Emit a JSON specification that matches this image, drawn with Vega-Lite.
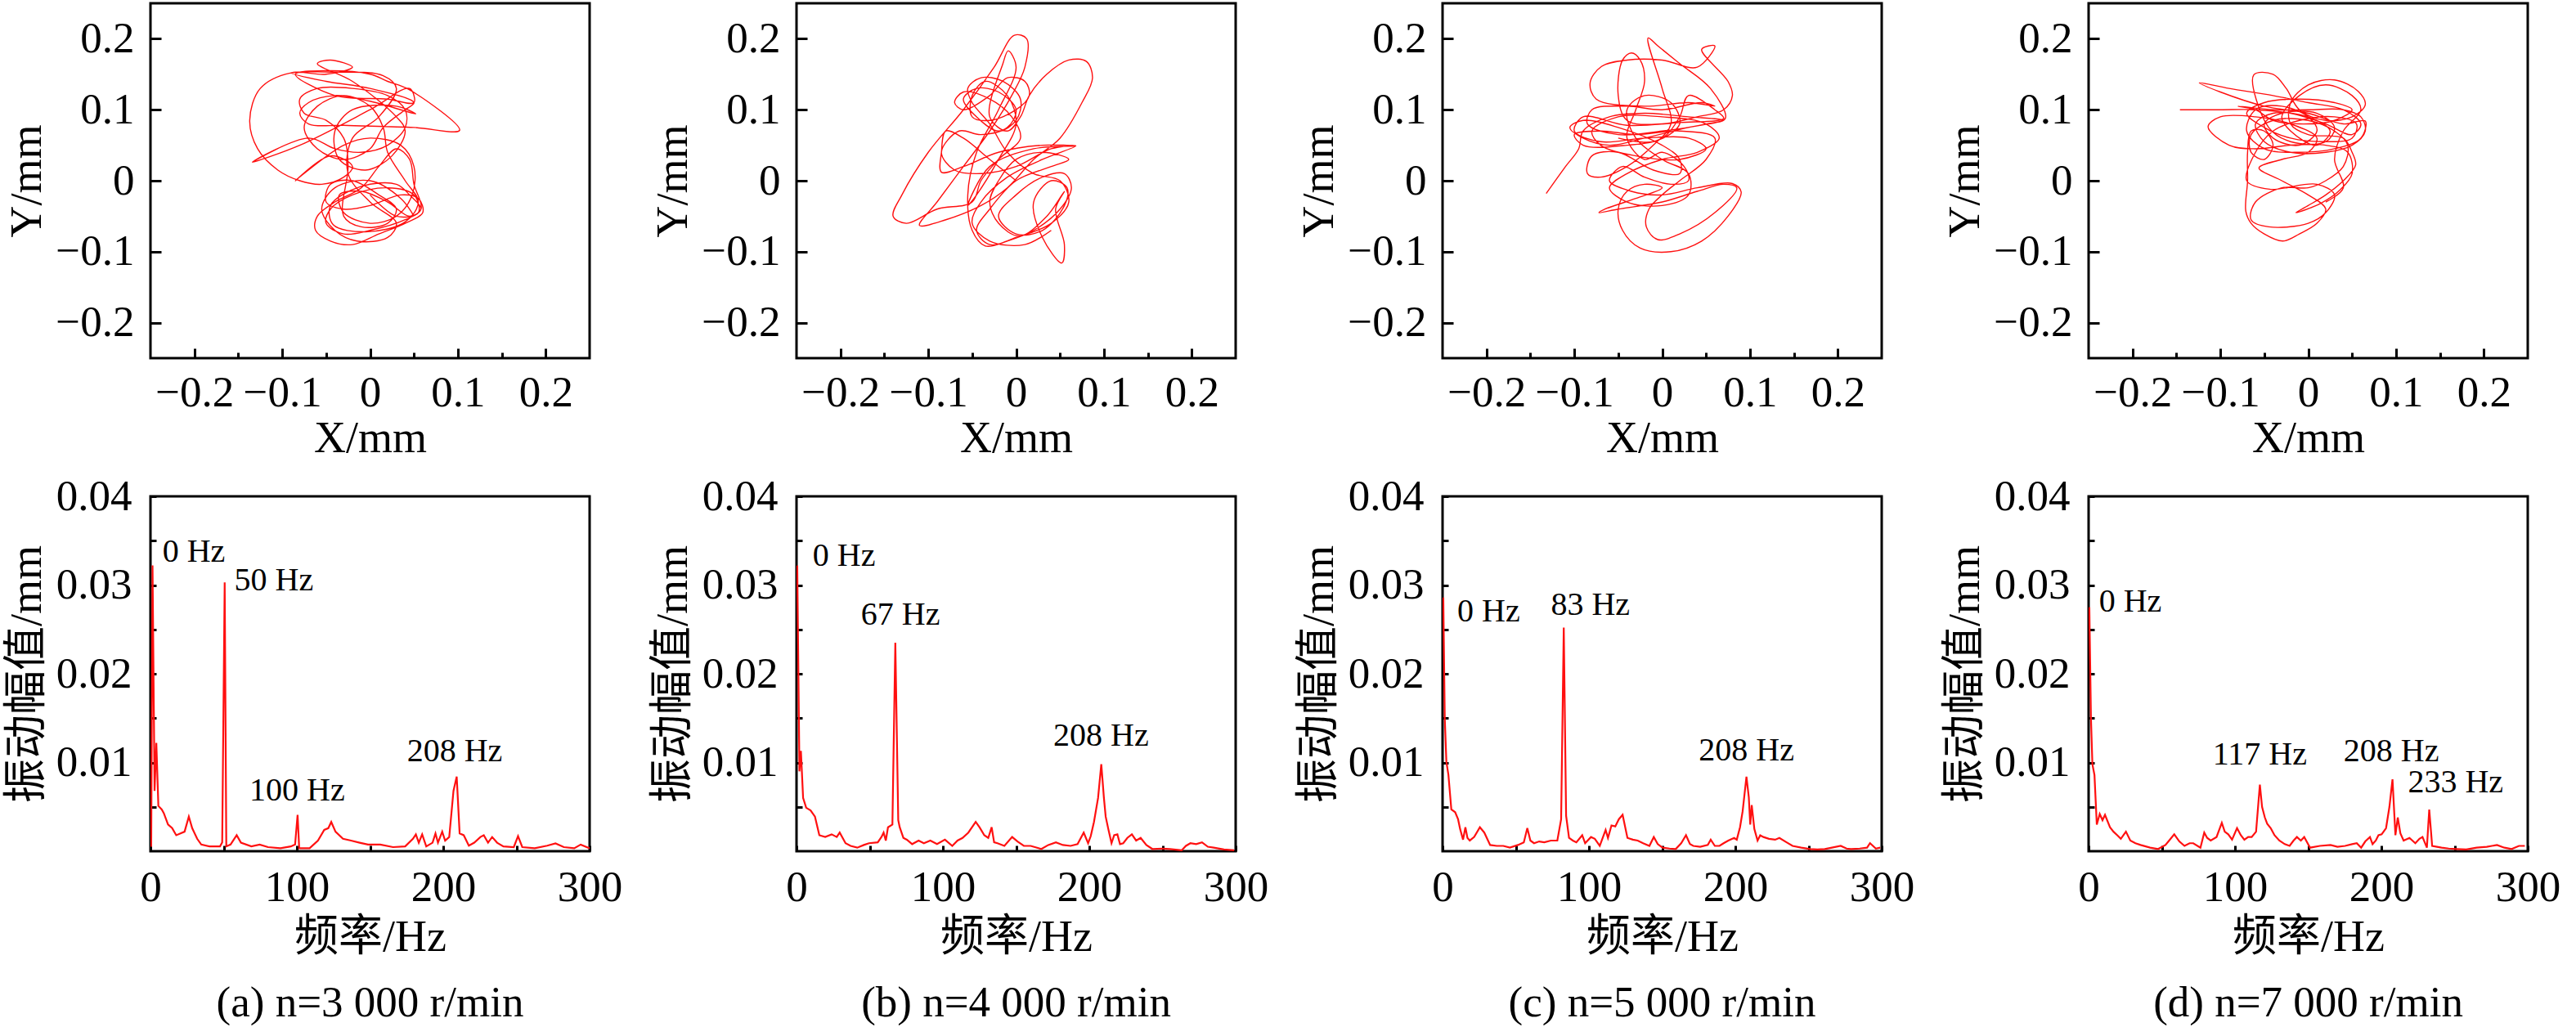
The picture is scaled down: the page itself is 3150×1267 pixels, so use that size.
{
  "$schema": "https://vega.github.io/schema/vega-lite/v6.json",
  "background": "white",
  "padding": {"left": 4, "top": 2, "right": 10, "bottom": 5},
  "columns": 4,
  "spacing": {"row": 169, "column": 253},
  "bounds": "flush",
  "config": {
    "font": "Liberation Serif",
    "view": {"stroke": "black", "strokeWidth": 3},
    "axis": {
      "domain": false, "grid": false,
      "labelFont": "Liberation Serif", "labelFontSize": 53, "labelColor": "black",
      "titleFont": "Liberation Serif, Noto Sans CJK SC", "titleFontSize": 54, "titleFontWeight": "normal", "titleColor": "black",
      "tickColor": "black", "tickWidth": 3, "labelFlush": false, "labelOverlap": false
    },
    "title": {"font": "Liberation Serif", "fontSize": 53, "fontWeight": "normal", "color": "black", "anchor": "middle"},
    "text": {"font": "Liberation Serif", "fontSize": 40, "color": "black", "align": "center", "baseline": "middle"}
  },
  "datasets": {
    "oa": [
      {"x":0.0,"y":-0.02},{"x":0.03,"y":-0.05},{"x":0.055,"y":-0.045},{"x":0.05,"y":-0.02},{"x":0.02,"y":-0.01},
      {"x":-0.02,"y":-0.02},{"x":-0.045,"y":-0.04},{"x":-0.05,"y":-0.06},{"x":-0.03,"y":-0.075},{"x":0.0,"y":-0.07},
      {"x":0.04,"y":-0.055},{"x":0.058,"y":-0.04},{"x":0.05,"y":-0.005},{"x":0.045,"y":0.03},{"x":0.03,"y":0.045},
      {"x":0.01,"y":0.02},{"x":-0.01,"y":-0.01},{"x":-0.04,"y":-0.03},{"x":-0.06,"y":-0.05},{"x":-0.062,"y":-0.07},
      {"x":-0.045,"y":-0.085},{"x":-0.02,"y":-0.09},{"x":0.01,"y":-0.075},{"x":0.04,"y":-0.06},{"x":0.06,"y":-0.045},
      {"x":0.055,"y":-0.025},{"x":0.035,"y":-0.02},{"x":0.0,"y":-0.035},{"x":-0.03,"y":-0.04},{"x":-0.05,"y":-0.03},
      {"x":-0.045,"y":-0.005},{"x":-0.02,"y":0.0},{"x":0.01,"y":-0.02},{"x":0.03,"y":-0.04},{"x":0.02,"y":-0.06},
      {"x":-0.01,"y":-0.065},{"x":-0.03,"y":-0.05},{"x":-0.025,"y":0.02},{"x":-0.03,"y":0.06},{"x":-0.05,"y":0.085},
      {"x":-0.075,"y":0.095},{"x":-0.08,"y":0.115},{"x":-0.06,"y":0.13},{"x":-0.02,"y":0.13},{"x":0.02,"y":0.12},
      {"x":0.04,"y":0.1},{"x":0.04,"y":0.075},{"x":0.02,"y":0.05},{"x":-0.01,"y":0.04},{"x":-0.04,"y":0.045},
      {"x":-0.07,"y":0.06},{"x":-0.134,"y":0.026},{"x":-0.08,"y":0.05},{"x":0.0,"y":0.1},{"x":0.045,"y":0.13},
      {"x":0.05,"y":0.11},{"x":0.02,"y":0.115},{"x":-0.04,"y":0.12},{"x":-0.085,"y":0.15},{"x":-0.05,"y":0.155},
      {"x":0.0,"y":0.15},{"x":0.02,"y":0.14},{"x":0.045,"y":0.128},{"x":0.102,"y":0.071},{"x":0.05,"y":0.075},
      {"x":-0.03,"y":0.078},{"x":-0.07,"y":0.08},{"x":-0.08,"y":0.095},{"x":-0.07,"y":0.11},{"x":-0.04,"y":0.12},
      {"x":0.0,"y":0.112},{"x":0.052,"y":0.094},{"x":0.03,"y":0.105},{"x":-0.02,"y":0.1},{"x":-0.04,"y":0.07},
      {"x":-0.035,"y":0.03},{"x":-0.005,"y":0.015},{"x":0.025,"y":0.035},{"x":0.04,"y":0.07},{"x":0.03,"y":0.09},
      {"x":-0.02,"y":0.14},{"x":-0.06,"y":0.165},{"x":-0.045,"y":0.17},{"x":-0.02,"y":0.16},{"x":-0.05,"y":0.15},
      {"x":-0.09,"y":0.152},{"x":-0.125,"y":0.13},{"x":-0.137,"y":0.085},{"x":-0.128,"y":0.045},{"x":-0.105,"y":0.015},
      {"x":-0.08,"y":0.0},{"x":-0.055,"y":-0.005},{"x":-0.03,"y":0.005},{"x":-0.02,"y":0.02},{"x":-0.045,"y":0.035},
      {"x":-0.085,"y":0.0},{"x":-0.03,"y":0.05},{"x":0.0,"y":0.06},{"x":0.035,"y":0.05},{"x":0.05,"y":0.02},
      {"x":0.048,"y":-0.02},{"x":0.03,"y":-0.05},{"x":0.0,"y":-0.06},{"x":-0.03,"y":-0.045},{"x":-0.035,"y":-0.02},
      {"x":-0.01,"y":-0.015},{"x":0.02,"y":-0.03},{"x":0.045,"y":-0.05},{"x":0.058,"y":-0.04},
      {"x":0.045,"y":-0.02},{"x":0.03,"y":-0.005},{"x":-0.01,"y":-0.008},{"x":-0.045,"y":-0.035},{"x":-0.042,"y":-0.062},
      {"x":-0.005,"y":-0.072},{"x":0.04,"y":-0.058},{"x":0.055,"y":-0.03},{"x":0.04,"y":0.0},{"x":0.02,"y":0.04},
      {"x":0.015,"y":0.075},{"x":0.0,"y":0.105},{"x":-0.03,"y":0.12},{"x":-0.06,"y":0.105},{"x":-0.075,"y":0.075},
      {"x":-0.06,"y":0.045},{"x":-0.03,"y":0.03},{"x":0.0,"y":0.045},{"x":0.015,"y":0.075},{"x":0.04,"y":0.1},
      {"x":0.05,"y":0.11},{"x":0.0,"y":0.13},{"x":-0.05,"y":0.14},{"x":-0.09,"y":0.152},{"x":-0.04,"y":0.153},
      {"x":0.015,"y":0.148},{"x":0.03,"y":0.13},{"x":0.01,"y":0.09},{"x":-0.02,"y":0.06},{"x":-0.025,"y":0.01},
      {"x":0.0,"y":-0.03},{"x":0.03,"y":-0.06},{"x":0.02,"y":-0.08},{"x":-0.015,"y":-0.085},{"x":-0.04,"y":-0.07},
      {"x":-0.055,"y":-0.04},{"x":-0.04,"y":-0.01},{"x":0.0,"y":0.0},{"x":0.035,"y":-0.025},{"x":0.05,"y":-0.05}
    ],
    "ob": [
      {"x":0.0,"y":0.0},{"x":-0.03,"y":0.03},{"x":-0.06,"y":0.06},{"x":-0.08,"y":0.07},{"x":-0.085,"y":0.04},
      {"x":-0.085,"y":0.012},{"x":-0.06,"y":0.02},{"x":-0.02,"y":0.04},{"x":0.03,"y":0.05},{"x":0.068,"y":0.049},
      {"x":0.02,"y":0.045},{"x":-0.03,"y":0.02},{"x":-0.055,"y":-0.035},{"x":-0.045,"y":-0.02},{"x":-0.02,"y":0.03},
      {"x":0.0,"y":0.08},{"x":-0.01,"y":0.12},{"x":-0.035,"y":0.14},{"x":-0.05,"y":0.12},{"x":-0.05,"y":0.09},
      {"x":-0.03,"y":0.085},{"x":0.0,"y":0.1},{"x":0.015,"y":0.12},{"x":0.01,"y":0.14},{"x":-0.01,"y":0.145},
      {"x":-0.03,"y":0.12},{"x":-0.06,"y":0.1},{"x":-0.07,"y":0.11},{"x":-0.06,"y":0.125},{"x":-0.03,"y":0.115},
      {"x":-0.005,"y":0.09},{"x":0.005,"y":0.06},{"x":-0.02,"y":0.03},{"x":-0.04,"y":0.0},{"x":-0.05,"y":-0.03},
      {"x":-0.09,"y":-0.04},{"x":-0.125,"y":-0.06},{"x":-0.14,"y":-0.05},{"x":-0.13,"y":-0.02},{"x":-0.1,"y":0.04},
      {"x":-0.06,"y":0.1},{"x":-0.025,"y":0.16},{"x":-0.002,"y":0.205},{"x":0.012,"y":0.2},{"x":0.01,"y":0.16},
      {"x":-0.005,"y":0.12},{"x":-0.03,"y":0.07},{"x":-0.06,"y":0.02},{"x":-0.09,"y":-0.03},{"x":-0.11,"y":-0.063},
      {"x":-0.08,"y":-0.055},{"x":-0.04,"y":-0.035},{"x":-0.01,"y":-0.01},{"x":0.02,"y":0.03},{"x":0.05,"y":0.06},
      {"x":0.075,"y":0.11},{"x":0.087,"y":0.145},{"x":0.08,"y":0.168},{"x":0.06,"y":0.17},{"x":0.035,"y":0.15},
      {"x":0.015,"y":0.12},{"x":0.005,"y":0.09},{"x":-0.01,"y":0.07},{"x":-0.03,"y":0.09},{"x":-0.015,"y":0.165},
      {"x":-0.009,"y":0.183},{"x":0.0,"y":0.16},{"x":-0.02,"y":0.1},{"x":-0.045,"y":0.04},{"x":-0.055,"y":-0.02},
      {"x":-0.05,"y":-0.07},{"x":-0.035,"y":-0.092},{"x":-0.01,"y":-0.085},{"x":0.02,"y":-0.07},{"x":0.05,"y":-0.04},
      {"x":0.063,"y":-0.01},{"x":0.055,"y":0.01},{"x":0.03,"y":0.005},{"x":0.0,"y":-0.02},{"x":-0.02,"y":-0.05},
      {"x":0.0,"y":-0.075},{"x":0.03,"y":-0.07},{"x":0.055,"y":-0.035},{"x":0.058,"y":-0.01},{"x":0.04,"y":0.0},
      {"x":0.02,"y":-0.03},{"x":0.03,"y":-0.08},{"x":0.052,"y":-0.116},{"x":0.055,"y":-0.09},{"x":0.045,"y":-0.04},
      {"x":0.055,"y":-0.015},{"x":0.035,"y":-0.05},{"x":0.004,"y":-0.078},{"x":-0.02,"y":-0.06},{"x":-0.03,"y":-0.03},
      {"x":-0.02,"y":0.0},{"x":0.0,"y":0.03},{"x":0.03,"y":0.04},{"x":0.06,"y":0.03},
      {"x":0.04,"y":0.02},{"x":0.0,"y":0.0},{"x":-0.03,"y":-0.04},{"x":-0.045,"y":-0.07},{"x":-0.03,"y":-0.09},
      {"x":0.0,"y":-0.08},{"x":0.04,"y":-0.06},{"x":0.06,"y":-0.03},{"x":0.05,"y":0.0},{"x":0.02,"y":0.01},
      {"x":-0.01,"y":0.04},{"x":-0.03,"y":0.08},{"x":-0.05,"y":0.11},{"x":-0.055,"y":0.13},{"x":-0.04,"y":0.145},
      {"x":-0.015,"y":0.14},{"x":0.005,"y":0.115},{"x":0.0,"y":0.085},{"x":-0.02,"y":0.07},{"x":-0.045,"y":0.09},
      {"x":-0.06,"y":0.115},{"x":-0.045,"y":0.13},{"x":-0.02,"y":0.125},{"x":0.0,"y":0.1},{"x":-0.01,"y":0.075},
      {"x":-0.04,"y":0.065},{"x":-0.065,"y":0.07},{"x":-0.085,"y":0.04},{"x":-0.07,"y":0.015},{"x":-0.04,"y":0.01},
      {"x":0.0,"y":0.02},{"x":0.04,"y":0.045},{"x":0.068,"y":0.049},{"x":0.03,"y":0.03},{"x":-0.01,"y":0.005},
      {"x":-0.04,"y":-0.03},{"x":-0.05,"y":-0.06},{"x":-0.03,"y":-0.085},{"x":0.01,"y":-0.09},{"x":0.04,"y":-0.07}
    ],
    "oc": [
      {"x":-0.132,"y":-0.018},{"x":-0.11,"y":0.02},{"x":-0.095,"y":0.045},{"x":-0.09,"y":0.07},{"x":-0.06,"y":0.09},
      {"x":-0.02,"y":0.095},{"x":0.03,"y":0.09},{"x":0.07,"y":0.085},{"x":0.03,"y":0.075},{"x":-0.02,"y":0.06},
      {"x":-0.06,"y":0.05},{"x":-0.09,"y":0.06},{"x":-0.105,"y":0.075},{"x":-0.09,"y":0.085},{"x":-0.05,"y":0.075},
      {"x":0.0,"y":0.05},{"x":0.02,"y":0.03},{"x":0.02,"y":0.01},{"x":-0.01,"y":0.015},{"x":-0.05,"y":0.04},
      {"x":-0.08,"y":0.035},{"x":-0.085,"y":0.01},{"x":-0.07,"y":0.005},{"x":-0.04,"y":0.02},{"x":-0.01,"y":0.05},
      {"x":0.01,"y":0.08},{"x":0.0,"y":0.13},{"x":-0.016,"y":0.201},{"x":-0.005,"y":0.19},{"x":0.02,"y":0.165},
      {"x":0.055,"y":0.13},{"x":0.072,"y":0.088},{"x":0.05,"y":0.08},{"x":0.0,"y":0.07},{"x":-0.05,"y":0.065},
      {"x":-0.085,"y":0.08},{"x":-0.08,"y":0.1},{"x":-0.04,"y":0.105},{"x":0.0,"y":0.1},{"x":0.045,"y":0.11},
      {"x":0.06,"y":0.105},{"x":0.03,"y":0.11},{"x":-0.02,"y":0.105},{"x":-0.075,"y":0.115},{"x":-0.082,"y":0.138},
      {"x":-0.069,"y":0.161},{"x":-0.04,"y":0.17},{"x":0.0,"y":0.17},{"x":0.04,"y":0.16},{"x":0.06,"y":0.19},
      {"x":0.045,"y":0.185},{"x":0.075,"y":0.14},{"x":0.08,"y":0.12},{"x":0.07,"y":0.1},{"x":0.04,"y":0.09},
      {"x":0.0,"y":0.08},{"x":-0.04,"y":0.085},{"x":-0.05,"y":0.12},{"x":-0.045,"y":0.17},{"x":-0.035,"y":0.18},
      {"x":-0.025,"y":0.17},{"x":-0.02,"y":0.14},{"x":-0.03,"y":0.1},{"x":-0.04,"y":0.06},{"x":-0.02,"y":0.03},
      {"x":0.0,"y":0.04},{"x":0.025,"y":0.02},{"x":0.03,"y":0.0},{"x":0.01,"y":-0.005},{"x":-0.02,"y":0.005},
      {"x":-0.045,"y":0.02},{"x":-0.06,"y":0.0},{"x":-0.035,"y":-0.015},{"x":0.0,"y":-0.02},{"x":0.04,"y":-0.01},
      {"x":0.08,"y":-0.004},{"x":0.09,"y":-0.016},{"x":0.075,"y":-0.05},{"x":0.045,"y":-0.085},{"x":0.01,"y":-0.1},
      {"x":-0.025,"y":-0.095},{"x":-0.045,"y":-0.07},{"x":-0.05,"y":-0.04},{"x":-0.04,"y":-0.015},{"x":-0.02,"y":-0.005},
      {"x":0.0,"y":-0.01},{"x":-0.03,"y":-0.025},{"x":-0.065,"y":-0.04},{"x":-0.072,"y":-0.045},{"x":-0.05,"y":-0.04},
      {"x":0.0,"y":-0.03},{"x":0.04,"y":-0.015},{"x":0.07,"y":-0.005},{"x":0.085,"y":-0.01},{"x":0.06,"y":-0.045},
      {"x":0.02,"y":-0.075},{"x":-0.005,"y":-0.083},{"x":-0.018,"y":-0.065},{"x":-0.015,"y":-0.04},{"x":0.0,"y":-0.02},
      {"x":0.02,"y":0.0},{"x":0.05,"y":0.03},{"x":0.06,"y":0.06},{"x":0.02,"y":0.07},{"x":-0.03,"y":0.065},
      {"x":-0.07,"y":0.07},{"x":-0.1,"y":0.065},{"x":-0.09,"y":0.05},{"x":-0.04,"y":0.05},{"x":0.0,"y":0.06},
      {"x":0.02,"y":0.09},{"x":0.03,"y":0.12},{"x":0.06,"y":0.1},{"x":0.07,"y":0.088},{"x":0.02,"y":0.082},
      {"x":-0.04,"y":0.078},{"x":-0.09,"y":0.09},{"x":-0.1,"y":0.07},{"x":-0.07,"y":0.055},{"x":-0.02,"y":0.06},
      {"x":0.03,"y":0.06},{"x":0.05,"y":0.045},{"x":0.02,"y":0.03},{"x":-0.03,"y":0.035},{"x":-0.07,"y":0.05},
      {"x":-0.08,"y":0.07},{"x":-0.05,"y":0.09},{"x":0.0,"y":0.09},{"x":0.05,"y":0.08},{"x":0.065,"y":0.06},
      {"x":0.04,"y":0.04},{"x":0.0,"y":0.03},{"x":-0.04,"y":0.01},{"x":-0.06,"y":-0.01},{"x":-0.04,"y":-0.03},
      {"x":0.0,"y":-0.035},{"x":0.03,"y":-0.02},{"x":0.03,"y":0.01},{"x":0.0,"y":0.03},{"x":-0.03,"y":0.06},
      {"x":-0.04,"y":0.1},{"x":-0.02,"y":0.12},{"x":0.01,"y":0.11},{"x":0.02,"y":0.08},{"x":-0.01,"y":0.055},
      {"x":-0.05,"y":0.06}
    ],
    "od": [
      {"x":-0.146,"y":0.1},{"x":-0.1,"y":0.1},{"x":-0.06,"y":0.1},{"x":-0.02,"y":0.095},{"x":0.02,"y":0.08},
      {"x":0.05,"y":0.065},{"x":0.06,"y":0.08},{"x":0.04,"y":0.1},{"x":0.0,"y":0.11},{"x":-0.04,"y":0.12},
      {"x":-0.09,"y":0.13},{"x":-0.124,"y":0.138},{"x":-0.1,"y":0.125},{"x":-0.05,"y":0.105},{"x":0.0,"y":0.095},
      {"x":0.04,"y":0.08},{"x":0.065,"y":0.084},{"x":0.06,"y":0.06},{"x":0.03,"y":0.045},{"x":-0.01,"y":0.04},
      {"x":-0.05,"y":0.045},{"x":-0.07,"y":0.07},{"x":-0.06,"y":0.1},{"x":-0.03,"y":0.105},{"x":0.0,"y":0.09},
      {"x":0.01,"y":0.07},{"x":-0.01,"y":0.05},{"x":-0.04,"y":0.06},{"x":-0.05,"y":0.08},{"x":-0.03,"y":0.095},
      {"x":0.01,"y":0.095},{"x":0.03,"y":0.075},{"x":0.02,"y":0.055},{"x":-0.02,"y":0.055},{"x":-0.045,"y":0.075},
      {"x":-0.062,"y":0.149},{"x":-0.04,"y":0.15},{"x":-0.025,"y":0.13},{"x":-0.01,"y":0.1},{"x":0.02,"y":0.085},
      {"x":0.05,"y":0.09},{"x":0.065,"y":0.107},{"x":0.057,"y":0.126},{"x":0.03,"y":0.142},{"x":0.0,"y":0.135},
      {"x":-0.02,"y":0.11},{"x":-0.02,"y":0.08},{"x":0.0,"y":0.065},{"x":0.04,"y":0.06},{"x":0.05,"y":0.04},
      {"x":0.054,"y":0.022},{"x":0.04,"y":0.0},{"x":0.02,"y":-0.02},{"x":0.0,"y":-0.035},{"x":-0.014,"y":-0.045},
      {"x":0.014,"y":-0.032},{"x":0.037,"y":-0.012},{"x":0.05,"y":0.01},{"x":0.045,"y":0.04},{"x":0.02,"y":0.05},
      {"x":-0.02,"y":0.05},{"x":-0.06,"y":0.045},{"x":-0.09,"y":0.05},{"x":-0.114,"y":0.076},{"x":-0.1,"y":0.09},
      {"x":-0.06,"y":0.09},{"x":-0.02,"y":0.08},{"x":0.01,"y":0.06},{"x":0.0,"y":0.04},{"x":-0.03,"y":0.03},
      {"x":-0.056,"y":0.018},{"x":-0.03,"y":0.0},{"x":0.0,"y":-0.02},{"x":0.02,"y":-0.04},{"x":0.01,"y":-0.06},
      {"x":-0.01,"y":-0.075},{"x":-0.029,"y":-0.085},{"x":-0.05,"y":-0.075},{"x":-0.065,"y":-0.06},{"x":-0.071,"y":-0.043},
      {"x":-0.069,"y":0.0},{"x":-0.069,"y":0.04},{"x":-0.065,"y":0.07},{"x":-0.05,"y":0.07},{"x":-0.04,"y":0.05},
      {"x":-0.05,"y":0.03},{"x":-0.065,"y":0.04},{"x":-0.065,"y":0.065},{"x":-0.04,"y":0.085},{"x":0.0,"y":0.085},
      {"x":0.03,"y":0.07},{"x":0.045,"y":0.05},{"x":0.04,"y":0.02},{"x":0.02,"y":0.0},{"x":0.0,"y":-0.01},
      {"x":-0.03,"y":-0.01},{"x":-0.06,"y":-0.03},{"x":-0.065,"y":-0.055},{"x":-0.045,"y":-0.065},{"x":0.0,"y":-0.06},
      {"x":0.02,"y":-0.045},{"x":0.03,"y":-0.02},{"x":0.01,"y":-0.005},{"x":-0.044,"y":-0.012},
      {"x":-0.07,"y":0.0},{"x":-0.06,"y":0.04},{"x":-0.04,"y":0.07},{"x":-0.01,"y":0.085},{"x":0.03,"y":0.09},
      {"x":0.055,"y":0.08},{"x":0.05,"y":0.06},{"x":0.02,"y":0.055},{"x":-0.02,"y":0.06},{"x":-0.05,"y":0.075},
      {"x":-0.07,"y":0.095},{"x":-0.05,"y":0.11},{"x":-0.01,"y":0.115},{"x":0.03,"y":0.11},{"x":0.05,"y":0.1},
      {"x":0.03,"y":0.085},{"x":-0.01,"y":0.08},{"x":-0.04,"y":0.085},{"x":-0.06,"y":0.1},{"x":-0.08,"y":0.105},
      {"x":-0.04,"y":0.1},{"x":0.0,"y":0.1},{"x":0.04,"y":0.1},{"x":0.06,"y":0.09},{"x":0.065,"y":0.07},
      {"x":0.05,"y":0.05},{"x":0.02,"y":0.04},{"x":-0.02,"y":0.04},{"x":-0.05,"y":0.055},{"x":-0.06,"y":0.08},
      {"x":-0.04,"y":0.095},{"x":0.0,"y":0.09},{"x":0.025,"y":0.07},{"x":0.01,"y":0.05},{"x":-0.02,"y":0.07},
      {"x":-0.03,"y":0.09},{"x":-0.01,"y":0.12},{"x":0.02,"y":0.135},{"x":0.05,"y":0.12},{"x":0.06,"y":0.1},
      {"x":0.04,"y":0.07},{"x":0.03,"y":0.03},{"x":0.04,"y":-0.01},{"x":0.02,"y":-0.03}
    ],
    "sa": [
      {"f":0.5,"a":0.0005},{"f":1.4,"a":0.0322},{"f":2.8,"a":0.0068},{"f":4.0,"a":0.0122},{"f":5.4,"a":0.0051},
      {"f":7.7,"a":0.0047},{"f":9.1,"a":0.0043},{"f":12.0,"a":0.003},{"f":14.8,"a":0.0026},{"f":17.6,"a":0.0018},
      {"f":20.5,"a":0.002},{"f":23.3,"a":0.0022},{"f":26.2,"a":0.0039},{"f":28.5,"a":0.0026},{"f":31.9,"a":0.0014},
      {"f":34.7,"a":0.00075},{"f":40.4,"a":0.00054},{"f":47.5,"a":0.00054},{"f":49.0,"a":0.001},{"f":50.7,"a":0.0303},
      {"f":51.8,"a":0.00054},{"f":54.7,"a":0.00075},{"f":58.9,"a":0.0018},{"f":61.8,"a":0.00096},{"f":68.9,"a":0.00054},
      {"f":74.6,"a":0.00075},{"f":80.3,"a":0.00046},{"f":88.8,"a":0.00033},{"f":95.9,"a":0.00054},{"f":98.8,"a":0.00075},
      {"f":100.5,"a":0.0041},{"f":101.6,"a":0.00033},{"f":108.7,"a":0.00033},{"f":114.4,"a":0.0012},{"f":118.7,"a":0.0024},
      {"f":121.5,"a":0.0026},{"f":123.5,"a":0.0033},{"f":126.4,"a":0.0022},{"f":131.5,"a":0.0014},{"f":137.0,"a":0.0012},
      {"f":142.9,"a":0.00096},{"f":148.6,"a":0.00075},{"f":157.0,"a":0.00075},{"f":165.7,"a":0.00046},{"f":174.0,"a":0.00054},
      {"f":179.3,"a":0.0014},{"f":181.3,"a":0.0019},{"f":183.3,"a":0.00096},{"f":185.6,"a":0.0019},{"f":188.4,"a":0.00054},
      {"f":192.7,"a":0.00096},{"f":194.7,"a":0.002},{"f":196.4,"a":0.00096},{"f":199.3,"a":0.0022},{"f":201.3,"a":0.0012},
      {"f":204.1,"a":0.0016},{"f":207.0,"a":0.0068},{"f":209.2,"a":0.0084},{"f":211.2,"a":0.002},{"f":214.0,"a":0.0018},
      {"f":217.5,"a":0.00062},{"f":221.2,"a":0.00096},{"f":225.4,"a":0.0016},{"f":227.7,"a":0.0018},{"f":230.6,"a":0.00096},
      {"f":233.4,"a":0.0016},{"f":236.8,"a":0.00096},{"f":241.1,"a":0.00054},{"f":248.2,"a":0.00046},{"f":251.1,"a":0.0017},
      {"f":254.0,"a":0.00046},{"f":262.5,"a":0.00033},{"f":271.0,"a":0.00062},{"f":276.7,"a":0.00088},{"f":282.4,"a":0.00046},
      {"f":289.5,"a":0.00033},{"f":293.9,"a":0.00075},{"f":300.0,"a":0.00033}
    ],
    "sb": [
      {"f":0.5,"a":0.0322},{"f":2.0,"a":0.009},{"f":3.0,"a":0.0113},{"f":4.5,"a":0.006},{"f":6.6,"a":0.0049},
      {"f":9.6,"a":0.0046},{"f":12.6,"a":0.0039},{"f":15.6,"a":0.0018},{"f":19.6,"a":0.0016},{"f":24.0,"a":0.0019},
      {"f":27.5,"a":0.0016},{"f":29.5,"a":0.0021},{"f":33.5,"a":0.0009},{"f":37.0,"a":0.0006},{"f":41.5,"a":0.0004},
      {"f":46.0,"a":0.0007},{"f":49.5,"a":0.0009},{"f":55.5,"a":0.001},{"f":58.0,"a":0.0016},{"f":59.5,"a":0.0021},
      {"f":61.0,"a":0.0012},{"f":62.5,"a":0.0027},{"f":65.5,"a":0.003},{"f":67.5,"a":0.0235},{"f":69.5,"a":0.0035},
      {"f":70.5,"a":0.0027},{"f":73.0,"a":0.0015},{"f":75.4,"a":0.0013},{"f":79.0,"a":0.0008},{"f":83.4,"a":0.0012},
      {"f":87.0,"a":0.0009},{"f":91.4,"a":0.0012},{"f":96.0,"a":0.0008},{"f":101.4,"a":0.0013},{"f":106.4,"a":0.0006},
      {"f":110.0,"a":0.0012},{"f":113.4,"a":0.0015},{"f":117.4,"a":0.0021},{"f":122.4,"a":0.0033},{"f":125.0,"a":0.0027},
      {"f":128.3,"a":0.0018},{"f":131.0,"a":0.0015},{"f":133.3,"a":0.0027},{"f":135.0,"a":0.001},{"f":137.3,"a":0.0009},
      {"f":142.0,"a":0.0006},{"f":147.3,"a":0.0016},{"f":151.0,"a":0.0011},{"f":155.3,"a":0.0006},{"f":160.0,"a":0.0006},
      {"f":167.3,"a":0.00025},{"f":172.0,"a":0.0007},{"f":177.2,"a":0.001},{"f":182.0,"a":0.0007},{"f":187.2,"a":0.0006},
      {"f":192.0,"a":0.0008},{"f":196.2,"a":0.0021},{"f":199.2,"a":0.0009},{"f":201.0,"a":0.0017},{"f":203.2,"a":0.0033},
      {"f":206.0,"a":0.006},{"f":208.2,"a":0.0098},{"f":210.0,"a":0.006},{"f":211.2,"a":0.0039},{"f":213.0,"a":0.0025},
      {"f":215.2,"a":0.0009},{"f":217.0,"a":0.0018},{"f":219.2,"a":0.0019},{"f":221.0,"a":0.0008},{"f":223.2,"a":0.0009},
      {"f":226.0,"a":0.0015},{"f":229.1,"a":0.0019},{"f":232.0,"a":0.0012},{"f":235.1,"a":0.0015},{"f":239.0,"a":0.0007},
      {"f":243.1,"a":0.00025},{"f":250.0,"a":0.0003},{"f":255.1,"a":0.00025},{"f":263.1,"a":0.0001},{"f":266.0,"a":0.0006},
      {"f":269.1,"a":0.0009},{"f":273.0,"a":0.0008},{"f":277.0,"a":0.001},{"f":281.0,"a":0.0005},{"f":285.0,"a":0.0004},
      {"f":292.0,"a":0.0002},{"f":299.0,"a":0.0001}
    ],
    "sc": [
      {"f":0.5,"a":0.0286},{"f":1.5,"a":0.015},{"f":2.6,"a":0.0101},{"f":4.0,"a":0.0086},{"f":6.0,"a":0.0047},
      {"f":8.6,"a":0.0044},{"f":10.6,"a":0.0036},{"f":12.0,"a":0.0025},{"f":14.0,"a":0.0013},{"f":15.6,"a":0.0027},
      {"f":17.0,"a":0.0015},{"f":18.6,"a":0.0012},{"f":21.6,"a":0.0016},{"f":25.5,"a":0.0027},{"f":28.5,"a":0.0021},
      {"f":32.5,"a":0.0007},{"f":37.0,"a":0.0006},{"f":41.5,"a":0.0006},{"f":46.0,"a":0.0004},{"f":51.5,"a":0.0007},
      {"f":55.5,"a":0.001},{"f":57.9,"a":0.0026},{"f":60.0,"a":0.0012},{"f":62.5,"a":0.0009},{"f":66.0,"a":0.0011},
      {"f":69.5,"a":0.001},{"f":74.0,"a":0.0012},{"f":78.4,"a":0.0012},{"f":81.0,"a":0.0036},{"f":82.8,"a":0.0252},
      {"f":84.4,"a":0.004},{"f":86.4,"a":0.0015},{"f":89.0,"a":0.0012},{"f":91.4,"a":0.001},{"f":95.4,"a":0.0018},
      {"f":97.4,"a":0.0009},{"f":101.4,"a":0.0016},{"f":104.0,"a":0.0014},{"f":107.4,"a":0.0006},{"f":111.4,"a":0.0024},
      {"f":113.0,"a":0.0015},{"f":115.4,"a":0.0029},{"f":118.0,"a":0.0028},{"f":120.4,"a":0.0036},{"f":123.0,"a":0.0041},
      {"f":126.3,"a":0.0015},{"f":130.0,"a":0.0013},{"f":133.3,"a":0.0012},{"f":137.0,"a":0.0009},{"f":141.3,"a":0.0006},
      {"f":144.3,"a":0.0016},{"f":147.0,"a":0.0008},{"f":150.3,"a":0.0004},{"f":155.0,"a":0.0003},{"f":159.3,"a":0.00025},
      {"f":163.0,"a":0.0009},{"f":166.3,"a":0.0018},{"f":169.0,"a":0.0008},{"f":171.3,"a":0.0006},{"f":176.0,"a":0.0005},
      {"f":181.2,"a":0.0007},{"f":183.2,"a":0.0013},{"f":186.0,"a":0.0006},{"f":189.2,"a":0.0006},{"f":192.0,"a":0.0009},
      {"f":195.2,"a":0.0012},{"f":199.2,"a":0.0015},{"f":201.0,"a":0.0013},{"f":203.2,"a":0.0027},{"f":205.0,"a":0.0045},
      {"f":207.6,"a":0.0084},{"f":209.2,"a":0.0061},{"f":210.2,"a":0.003},{"f":211.2,"a":0.0052},{"f":213.0,"a":0.0025},
      {"f":215.2,"a":0.0012},{"f":217.0,"a":0.0018},{"f":219.2,"a":0.0016},{"f":223.0,"a":0.0014},{"f":227.2,"a":0.0013},
      {"f":230.1,"a":0.0015},{"f":235.0,"a":0.001},{"f":239.1,"a":0.0006},{"f":245.0,"a":0.0004},{"f":251.1,"a":0.00025},
      {"f":256.0,"a":0.0002},{"f":261.1,"a":0.00025},{"f":266.0,"a":0.0004},{"f":272.0,"a":0.0006},{"f":276.0,"a":0.0003},
      {"f":279.0,"a":0.00025},{"f":285.0,"a":0.0003},{"f":290.0,"a":0.0004},{"f":292.0,"a":0.0009},{"f":296.0,"a":0.0003},
      {"f":299.0,"a":0.0004}
    ],
    "sd": [
      {"f":0.5,"a":0.0275},{"f":1.6,"a":0.015},{"f":2.6,"a":0.0098},{"f":4.0,"a":0.0086},{"f":5.6,"a":0.003},
      {"f":7.6,"a":0.0042},{"f":9.5,"a":0.0035},{"f":11.2,"a":0.0041},{"f":14.6,"a":0.0027},{"f":17.0,"a":0.0022},
      {"f":19.6,"a":0.0018},{"f":22.0,"a":0.0014},{"f":25.5,"a":0.0022},{"f":28.5,"a":0.0012},{"f":32.0,"a":0.0009},
      {"f":35.5,"a":0.0007},{"f":42.0,"a":0.0004},{"f":47.5,"a":0.00025},{"f":52.5,"a":0.0007},{"f":55.0,"a":0.0012},
      {"f":58.5,"a":0.0019},{"f":62.0,"a":0.0011},{"f":65.5,"a":0.0006},{"f":69.0,"a":0.0009},{"f":71.5,"a":0.0009},
      {"f":76.4,"a":0.0004},{"f":79.0,"a":0.0021},{"f":81.0,"a":0.0015},{"f":83.4,"a":0.0012},{"f":87.4,"a":0.0016},
      {"f":91.0,"a":0.0032},{"f":93.0,"a":0.0022},{"f":95.4,"a":0.0019},{"f":98.0,"a":0.0013},{"f":101.4,"a":0.0026},
      {"f":104.0,"a":0.0018},{"f":106.4,"a":0.0013},{"f":109.0,"a":0.0016},{"f":111.4,"a":0.0016},{"f":114.4,"a":0.0022},
      {"f":117.0,"a":0.0075},{"f":118.5,"a":0.005},{"f":120.4,"a":0.0038},{"f":122.0,"a":0.0031},{"f":124.4,"a":0.0026},
      {"f":127.0,"a":0.0018},{"f":130.3,"a":0.0012},{"f":134.0,"a":0.0008},{"f":137.3,"a":0.0006},{"f":140.0,"a":0.0012},
      {"f":142.3,"a":0.0016},{"f":145.0,"a":0.0012},{"f":147.3,"a":0.0016},{"f":151.3,"a":0.0004},{"f":158.0,"a":0.0006},
      {"f":165.3,"a":0.0007},{"f":170.0,"a":0.0005},{"f":175.2,"a":0.0006},{"f":180.0,"a":0.0008},{"f":183.2,"a":0.0009},
      {"f":186.2,"a":0.0004},{"f":189.0,"a":0.0011},{"f":192.2,"a":0.0016},{"f":194.0,"a":0.0008},{"f":196.2,"a":0.0012},
      {"f":198.0,"a":0.0018},{"f":200.2,"a":0.0019},{"f":203.2,"a":0.0026},{"f":205.5,"a":0.005},{"f":207.6,"a":0.0081},
      {"f":209.6,"a":0.0018},{"f":211.2,"a":0.0038},{"f":213.0,"a":0.002},{"f":215.2,"a":0.0012},{"f":219.2,"a":0.0015},
      {"f":223.2,"a":0.0009},{"f":226.0,"a":0.0014},{"f":228.1,"a":0.0016},{"f":231.1,"a":0.0004},{"f":232.7,"a":0.0047},
      {"f":234.7,"a":0.0006},{"f":238.0,"a":0.0005},{"f":241.1,"a":0.0004},{"f":246.0,"a":0.0003},{"f":251.1,"a":0.00025},
      {"f":258.0,"a":0.0002},{"f":265.1,"a":0.0004},{"f":272.0,"a":0.0005},{"f":279.0,"a":0.0007},{"f":284.0,"a":0.0004},
      {"f":289.0,"a":0.00025},{"f":294.0,"a":0.0006},{"f":298.0,"a":0.0006}
    ],
    "ann": [
      {"p":"a","f":29.6,"a":0.0337,"t":"0 Hz"},{"p":"a","f":84.3,"a":0.0305,"t":"50 Hz"},
      {"p":"a","f":100.2,"a":0.0068,"t":"100 Hz"},{"p":"a","f":207.8,"a":0.0112,"t":"208 Hz"},
      {"p":"b","f":32.5,"a":0.0333,"t":"0 Hz"},{"p":"b","f":71,"a":0.0266,"t":"67 Hz"},
      {"p":"b","f":208,"a":0.013,"t":"208 Hz"},
      {"p":"c","f":31.5,"a":0.027,"t":"0 Hz"},{"p":"c","f":101,"a":0.0277,"t":"83 Hz"},
      {"p":"c","f":207.6,"a":0.0113,"t":"208 Hz"},
      {"p":"d","f":28.5,"a":0.0281,"t":"0 Hz"},{"p":"d","f":117,"a":0.0109,"t":"117 Hz"},
      {"p":"d","f":206.8,"a":0.0112,"t":"208 Hz"},{"p":"d","f":250.7,"a":0.0077,"t":"233 Hz"}
    ]
  },
  "concat": [
    {
      "width": 537, "height": 434,
      "data": {"name": "oa"},
      "mark": {"type": "line", "color": "#ff1010", "strokeWidth": 1.4, "interpolate": "catmull-rom", "clip": true},
      "encoding": {
        "x": {"field": "x", "type": "quantitative", "scale": {"domain": [-0.25, 0.25], "nice": false, "zero": false},
          "axis": {"title": "X/mm", "values": [-0.2, -0.15, -0.1, -0.05, 0, 0.05, 0.1, 0.15, 0.2], "format": "~g",
            "labelExpr": "abs(round(datum.value*20)) % 2 == 1 ? '' : datum.label",
            "tickSize": {"condition": {"test": "abs(round(datum.value*20)) % 2 == 1", "value": -7}, "value": -12},
            "labelPadding": 28, "minExtent": 69, "maxExtent": 69, "titlePadding": 2}},
        "y": {"field": "y", "type": "quantitative", "scale": {"domain": [-0.25, 0.25], "nice": false, "zero": false},
          "axis": {"title": "Y/mm", "values": [-0.2, -0.1, 0, 0.1, 0.2], "format": "~g", "tickSize": -13,
            "labelPadding": 33, "minExtent": 117, "maxExtent": 117, "titlePadding": 7}},
        "order": {"value": null}
      }
    },
    {
      "width": 537, "height": 434,
      "data": {"name": "ob"},
      "mark": {"type": "line", "color": "#ff1010", "strokeWidth": 1.4, "interpolate": "catmull-rom", "clip": true},
      "encoding": {
        "x": {"field": "x", "type": "quantitative", "scale": {"domain": [-0.25, 0.25], "nice": false, "zero": false},
          "axis": {"title": "X/mm", "values": [-0.2, -0.15, -0.1, -0.05, 0, 0.05, 0.1, 0.15, 0.2], "format": "~g",
            "labelExpr": "abs(round(datum.value*20)) % 2 == 1 ? '' : datum.label",
            "tickSize": {"condition": {"test": "abs(round(datum.value*20)) % 2 == 1", "value": -7}, "value": -12},
            "labelPadding": 28, "minExtent": 69, "maxExtent": 69, "titlePadding": 2}},
        "y": {"field": "y", "type": "quantitative", "scale": {"domain": [-0.25, 0.25], "nice": false, "zero": false},
          "axis": {"title": "Y/mm", "values": [-0.2, -0.1, 0, 0.1, 0.2], "format": "~g", "tickSize": -13,
            "labelPadding": 33, "minExtent": 117, "maxExtent": 117, "titlePadding": 7}},
        "order": {"value": null}
      }
    },
    {
      "width": 537, "height": 434,
      "data": {"name": "oc"},
      "mark": {"type": "line", "color": "#ff1010", "strokeWidth": 1.4, "interpolate": "catmull-rom", "clip": true},
      "encoding": {
        "x": {"field": "x", "type": "quantitative", "scale": {"domain": [-0.25, 0.25], "nice": false, "zero": false},
          "axis": {"title": "X/mm", "values": [-0.2, -0.15, -0.1, -0.05, 0, 0.05, 0.1, 0.15, 0.2], "format": "~g",
            "labelExpr": "abs(round(datum.value*20)) % 2 == 1 ? '' : datum.label",
            "tickSize": {"condition": {"test": "abs(round(datum.value*20)) % 2 == 1", "value": -7}, "value": -12},
            "labelPadding": 28, "minExtent": 69, "maxExtent": 69, "titlePadding": 2}},
        "y": {"field": "y", "type": "quantitative", "scale": {"domain": [-0.25, 0.25], "nice": false, "zero": false},
          "axis": {"title": "Y/mm", "values": [-0.2, -0.1, 0, 0.1, 0.2], "format": "~g", "tickSize": -13,
            "labelPadding": 33, "minExtent": 117, "maxExtent": 117, "titlePadding": 7}},
        "order": {"value": null}
      }
    },
    {
      "width": 537, "height": 434,
      "data": {"name": "od"},
      "mark": {"type": "line", "color": "#ff1010", "strokeWidth": 1.4, "interpolate": "catmull-rom", "clip": true},
      "encoding": {
        "x": {"field": "x", "type": "quantitative", "scale": {"domain": [-0.25, 0.25], "nice": false, "zero": false},
          "axis": {"title": "X/mm", "values": [-0.2, -0.15, -0.1, -0.05, 0, 0.05, 0.1, 0.15, 0.2], "format": "~g",
            "labelExpr": "abs(round(datum.value*20)) % 2 == 1 ? '' : datum.label",
            "tickSize": {"condition": {"test": "abs(round(datum.value*20)) % 2 == 1", "value": -7}, "value": -12},
            "labelPadding": 28, "minExtent": 69, "maxExtent": 69, "titlePadding": 2}},
        "y": {"field": "y", "type": "quantitative", "scale": {"domain": [-0.25, 0.25], "nice": false, "zero": false},
          "axis": {"title": "Y/mm", "values": [-0.2, -0.1, 0, 0.1, 0.2], "format": "~g", "tickSize": -13,
            "labelPadding": 33, "minExtent": 117, "maxExtent": 117, "titlePadding": 7}},
        "order": {"value": null}
      }
    },
    {
      "width": 537, "height": 434,
      "title": {"text": "(a) n=3 000 r/min", "orient": "bottom", "frame": "group", "offset": 28},
      "encoding": {
        "x": {"field": "f", "type": "quantitative", "scale": {"domain": [0, 300], "nice": false},
          "axis": {"title": "频率/Hz", "values": [0, 50, 100, 150, 200, 250, 300],
            "labelExpr": "datum.value % 100 == 0 ? datum.label : ''", "tickSize": -7,
            "labelPadding": 25, "minExtent": 71, "maxExtent": 71, "titlePadding": 7}},
        "y": {"field": "a", "type": "quantitative", "scale": {"domain": [0, 0.04], "nice": false},
          "axis": {"title": "振动幅值/mm", "values": [0.005, 0.01, 0.015, 0.02, 0.025, 0.03, 0.035, 0.04], "format": "~g",
            "labelExpr": "round(datum.value*1000) % 10 == 0 ? datum.label : ''", "tickSize": -7,
            "labelPadding": 30, "minExtent": 117, "maxExtent": 117, "titlePadding": 7}}
      },
      "layer": [
        {"data": {"name": "sa"}, "mark": {"type": "line", "color": "#ff1010", "strokeWidth": 2.2, "clip": true}},
        {"data": {"name": "ann"}, "transform": [{"filter": "datum.p == 'a'"}], "mark": {"type": "text"}, "encoding": {"text": {"field": "t"}}}
      ]
    },
    {
      "width": 537, "height": 434,
      "title": {"text": "(b) n=4 000 r/min", "orient": "bottom", "frame": "group", "offset": 28},
      "encoding": {
        "x": {"field": "f", "type": "quantitative", "scale": {"domain": [0, 300], "nice": false},
          "axis": {"title": "频率/Hz", "values": [0, 50, 100, 150, 200, 250, 300],
            "labelExpr": "datum.value % 100 == 0 ? datum.label : ''", "tickSize": -7,
            "labelPadding": 25, "minExtent": 71, "maxExtent": 71, "titlePadding": 7}},
        "y": {"field": "a", "type": "quantitative", "scale": {"domain": [0, 0.04], "nice": false},
          "axis": {"title": "振动幅值/mm", "values": [0.005, 0.01, 0.015, 0.02, 0.025, 0.03, 0.035, 0.04], "format": "~g",
            "labelExpr": "round(datum.value*1000) % 10 == 0 ? datum.label : ''", "tickSize": -7,
            "labelPadding": 30, "minExtent": 117, "maxExtent": 117, "titlePadding": 7}}
      },
      "layer": [
        {"data": {"name": "sb"}, "mark": {"type": "line", "color": "#ff1010", "strokeWidth": 2.2, "clip": true}},
        {"data": {"name": "ann"}, "transform": [{"filter": "datum.p == 'b'"}], "mark": {"type": "text"}, "encoding": {"text": {"field": "t"}}}
      ]
    },
    {
      "width": 537, "height": 434,
      "title": {"text": "(c) n=5 000 r/min", "orient": "bottom", "frame": "group", "offset": 28},
      "encoding": {
        "x": {"field": "f", "type": "quantitative", "scale": {"domain": [0, 300], "nice": false},
          "axis": {"title": "频率/Hz", "values": [0, 50, 100, 150, 200, 250, 300],
            "labelExpr": "datum.value % 100 == 0 ? datum.label : ''", "tickSize": -7,
            "labelPadding": 25, "minExtent": 71, "maxExtent": 71, "titlePadding": 7}},
        "y": {"field": "a", "type": "quantitative", "scale": {"domain": [0, 0.04], "nice": false},
          "axis": {"title": "振动幅值/mm", "values": [0.005, 0.01, 0.015, 0.02, 0.025, 0.03, 0.035, 0.04], "format": "~g",
            "labelExpr": "round(datum.value*1000) % 10 == 0 ? datum.label : ''", "tickSize": -7,
            "labelPadding": 30, "minExtent": 117, "maxExtent": 117, "titlePadding": 7}}
      },
      "layer": [
        {"data": {"name": "sc"}, "mark": {"type": "line", "color": "#ff1010", "strokeWidth": 2.2, "clip": true}},
        {"data": {"name": "ann"}, "transform": [{"filter": "datum.p == 'c'"}], "mark": {"type": "text"}, "encoding": {"text": {"field": "t"}}}
      ]
    },
    {
      "width": 537, "height": 434,
      "title": {"text": "(d) n=7 000 r/min", "orient": "bottom", "frame": "group", "offset": 28},
      "encoding": {
        "x": {"field": "f", "type": "quantitative", "scale": {"domain": [0, 300], "nice": false},
          "axis": {"title": "频率/Hz", "values": [0, 50, 100, 150, 200, 250, 300],
            "labelExpr": "datum.value % 100 == 0 ? datum.label : ''", "tickSize": -7,
            "labelPadding": 25, "minExtent": 71, "maxExtent": 71, "titlePadding": 7}},
        "y": {"field": "a", "type": "quantitative", "scale": {"domain": [0, 0.04], "nice": false},
          "axis": {"title": "振动幅值/mm", "values": [0.005, 0.01, 0.015, 0.02, 0.025, 0.03, 0.035, 0.04], "format": "~g",
            "labelExpr": "round(datum.value*1000) % 10 == 0 ? datum.label : ''", "tickSize": -7,
            "labelPadding": 30, "minExtent": 117, "maxExtent": 117, "titlePadding": 7}}
      },
      "layer": [
        {"data": {"name": "sd"}, "mark": {"type": "line", "color": "#ff1010", "strokeWidth": 2.2, "clip": true}},
        {"data": {"name": "ann"}, "transform": [{"filter": "datum.p == 'd'"}], "mark": {"type": "text"}, "encoding": {"text": {"field": "t"}}}
      ]
    }
  ]
}
